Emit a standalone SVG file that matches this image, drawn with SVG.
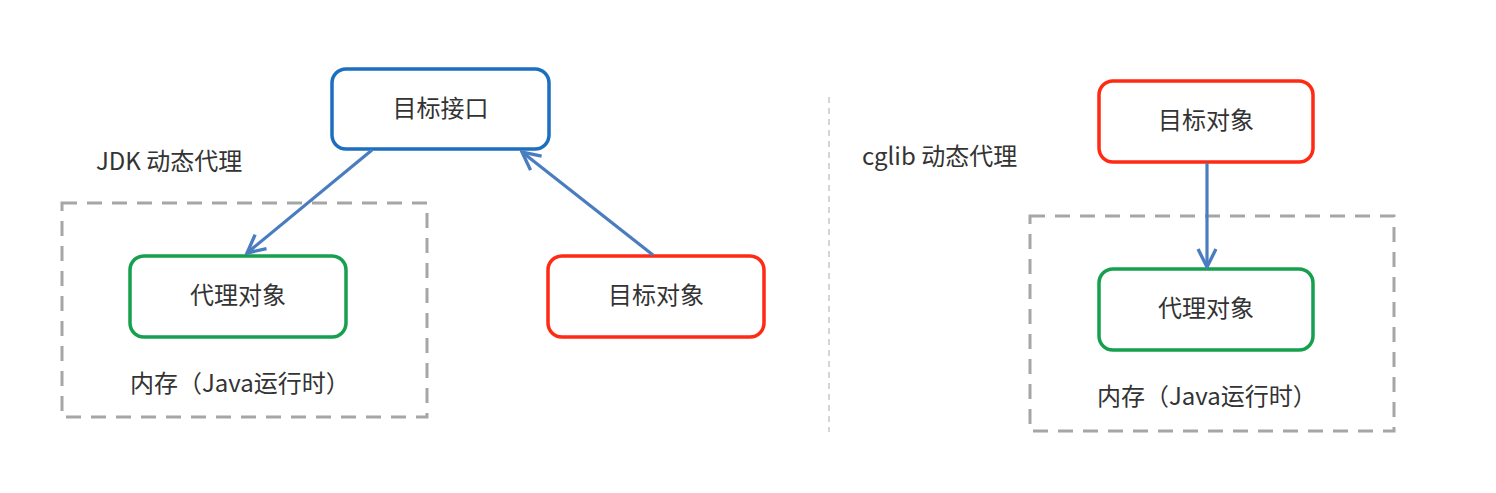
<svg xmlns="http://www.w3.org/2000/svg" width="1496" height="493" viewBox="0 0 1496 493">
<defs>
<style>
.t{font-family:"Noto Sans CJK SC","Liberation Sans",sans-serif;font-size:24px;fill:#333;}
.box{fill:#fff;stroke-width:3.5;}
.blue{stroke:#1c6fbf;}
.red{stroke:#ff2a14;}
.green{stroke:#16a04e;}
.dash{fill:none;stroke:#a6a6a6;stroke-width:3;stroke-dasharray:15 10;}
.conn{stroke:#4a7cc0;stroke-width:3.2;fill:none;}
</style>
<marker id="arr" viewBox="0 0 20 20" refX="18" refY="10" markerWidth="7" markerHeight="7" markerUnits="strokeWidth" orient="auto">
<path d="M2,2 L18,10 L2,18" fill="none" stroke="#4a7cc0" stroke-width="3"/>
</marker>
</defs>
<rect width="1496" height="493" fill="#fff"/>
<line x1="829" y1="97" x2="829" y2="432" stroke="#c8c8c8" stroke-width="1.5" stroke-dasharray="6 5"/>
<g id="jdk-label"><text class="t" x="96" y="170">JDK 动态代理</text></g>
<g id="cglib-label"><text class="t" x="862" y="165">cglib 动态代理</text></g>
<g id="jdk-memory"><rect class="dash" x="62" y="203" width="365" height="214"/><text class="t" x="130" y="392">内存（Java运行时）</text></g>
<g id="cglib-memory"><rect class="dash" x="1030" y="216" width="364" height="215"/><text class="t" x="1097" y="405">内存（Java运行时）</text></g>
<g id="iface"><rect class="box blue" x="332" y="69" width="217" height="80" rx="14"/><text class="t" x="440.5" y="117" text-anchor="middle">目标接口</text></g>
<g id="proxy-left"><rect class="box green" x="130" y="256" width="216" height="81" rx="14"/><text class="t" x="238" y="304" text-anchor="middle">代理对象</text></g>
<g id="target-left"><rect class="box red" x="548" y="256" width="216" height="81" rx="14"/><text class="t" x="656" y="304" text-anchor="middle">目标对象</text></g>
<g id="target-right"><rect class="box red" x="1099" y="81" width="214" height="81" rx="14"/><text class="t" x="1206" y="129" text-anchor="middle">目标对象</text></g>
<g id="proxy-right"><rect class="box green" x="1099" y="269" width="214" height="81" rx="14"/><text class="t" x="1206" y="317" text-anchor="middle">代理对象</text></g>
<g id="connectors">
<line class="conn" x1="372" y1="150" x2="247" y2="253" marker-end="url(#arr)"/>
<line class="conn" x1="653" y1="255" x2="522" y2="152" marker-end="url(#arr)"/>
<line class="conn" x1="1207" y1="163" x2="1207" y2="267" marker-end="url(#arr)"/>
</g>
</svg>
